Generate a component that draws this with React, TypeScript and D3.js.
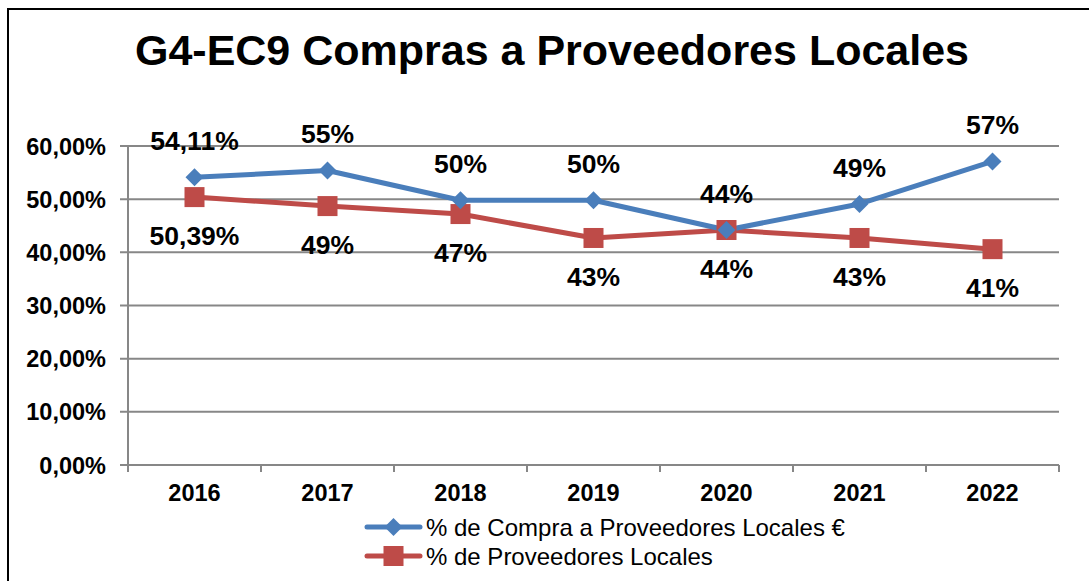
import React from "react";
import * as d3 from "d3";

const categories = ["2016", "2017", "2018", "2019", "2020", "2021", "2022"];
const compraValues = [54.11, 55.4, 49.8, 49.8, 44.2, 49.1, 57.1];
const compraLabels = ["54,11%", "55%", "50%", "50%", "44%", "49%", "57%"];
const proveedoresValues = [50.39, 48.7, 47.2, 42.7, 44.2, 42.7, 40.6];
const proveedoresLabels = ["50,39%", "49%", "47%", "43%", "44%", "43%", "41%"];
const yTicks = [0, 10, 20, 30, 40, 50, 60];
const seriesNames = ["% de Compra a Proveedores Locales €", "% de Proveedores Locales"];
const title = "G4-EC9 Compras a Proveedores Locales";

const W = 1089, H = 581;
const left = 128, right = 1059, top = 146, bottom = 465;
const BLUE = "#4A7EBB", RED = "#BE4B48", GRID = "#878787";
const FONT = "Liberation Sans, Arial, sans-serif";

export default function App() {
  const x = d3.scaleBand<string>().domain(categories).range([left, right]);
  const y = d3.scaleLinear().domain([0, 60]).range([bottom, top]);
  const cx = (c: string) => (x(c) as number) + x.bandwidth() / 2;
  const line = d3.line<number>().x((_, i) => cx(categories[i])).y((d) => y(d));
  const diamond = (px: number, py: number, r: number) =>
    `M${px},${py - r}L${px + r},${py}L${px},${py + r}L${px - r},${py}Z`;

  return (
    <svg width={W} height={H} style={{ position: "absolute", left: 0, top: 0, background: "#fff" }} fontFamily={FONT}>
      <rect x={8} y={9} width={W + 10} height={H + 10} fill="#fff" stroke="#000" strokeWidth={2} />
      <text x={552} y={65} textAnchor="middle" fontSize={43} fontWeight="bold">{title}</text>
      {yTicks.map((t) => (
        <g key={t}>
          <line x1={120} x2={right} y1={y(t)} y2={y(t)} stroke={GRID} strokeWidth={2} />
          <text x={106} y={y(t) + 8.5} textAnchor="end" fontSize={23.5} fontWeight="bold">
            {t.toFixed(2).replace(".", ",")}%
          </text>
        </g>
      ))}
      <line x1={left} x2={left} y1={top} y2={bottom + 7} stroke={GRID} strokeWidth={2} />
      {categories.map((c, i) => (
        <g key={c}>
          <line x1={(x(c) as number) + x.bandwidth()} x2={(x(c) as number) + x.bandwidth()} y1={bottom} y2={bottom + 7} stroke={GRID} strokeWidth={2} />
          <text x={cx(c)} y={501} textAnchor="middle" fontSize={23.5} fontWeight="bold">{c}</text>
        </g>
      ))}
      <path d={line(proveedoresValues) as string} fill="none" stroke={RED} strokeWidth={5} strokeLinejoin="round" />
      <path d={line(compraValues) as string} fill="none" stroke={BLUE} strokeWidth={5} strokeLinejoin="round" />
      {proveedoresValues.map((v, i) => (
        <rect key={"r" + i} x={cx(categories[i]) - 10} y={y(v) - 10} width={20} height={20} fill={RED} />
      ))}
      {compraValues.map((v, i) => (
        <path key={"b" + i} d={diamond(cx(categories[i]), y(v), 9)} fill={BLUE} />
      ))}
      {compraValues.map((v, i) => (
        <text key={"bl" + i} x={cx(categories[i])} y={y(v) - 27} textAnchor="middle" fontSize={26.5} fontWeight="bold">
          {compraLabels[i]}
        </text>
      ))}
      {proveedoresValues.map((v, i) => (
        <text key={"rl" + i} x={cx(categories[i])} y={y(v) + 48} textAnchor="middle" fontSize={26.5} fontWeight="bold">
          {proveedoresLabels[i]}
        </text>
      ))}
      {seriesNames.map((n, i) => {
        const ly = 527 + i * 29;
        const col = i === 0 ? BLUE : RED;
        return (
          <g key={n}>
            <line x1={367} x2={420} y1={ly} y2={ly} stroke={col} strokeWidth={5} strokeLinecap="round" />
            {i === 0 ? (
              <path d={diamond(393.5, ly, 9)} fill={col} />
            ) : (
              <rect x={383.5} y={ly - 10} width={20} height={20} fill={col} />
            )}
            <text x={426} y={ly + 8.5} fontSize={24}>{n}</text>
          </g>
        );
      })}
    </svg>
  );
}
